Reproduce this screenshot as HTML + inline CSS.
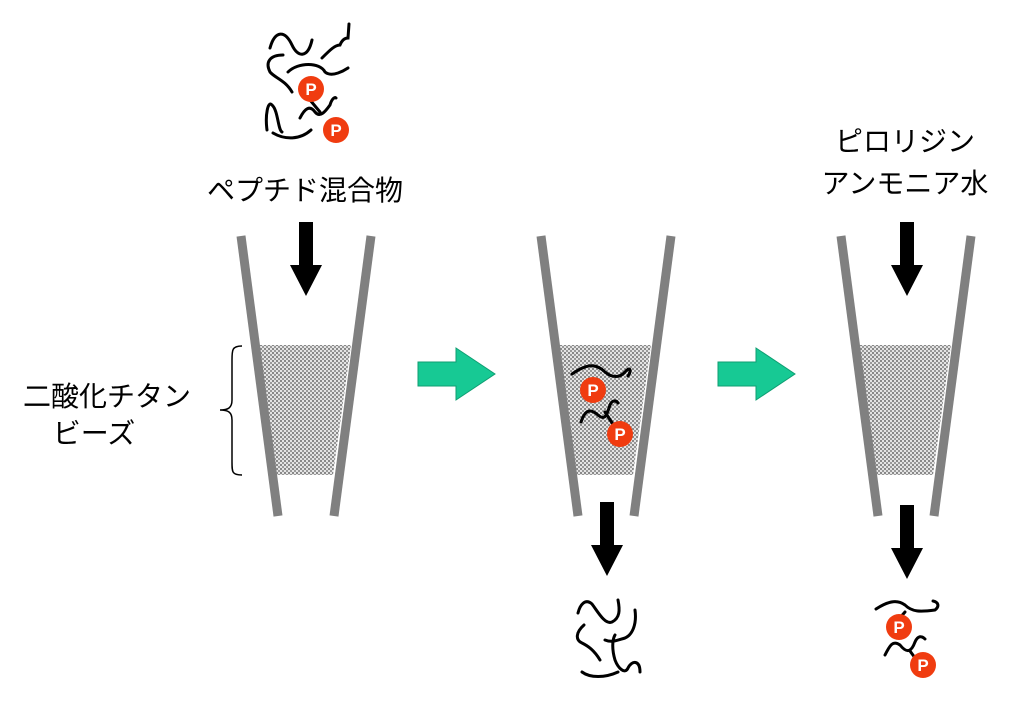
<!DOCTYPE html>
<html><head><meta charset="utf-8"><style>
html,body{margin:0;padding:0;background:#fff;width:1024px;height:711px;overflow:hidden}
svg{display:block}
text{font-family:"Liberation Sans","Noto Sans CJK JP",sans-serif}
</style></head><body>
<svg width="1024" height="711" viewBox="0 0 1024 711" xmlns="http://www.w3.org/2000/svg">
<defs>
<pattern id="dots" width="4" height="4" patternUnits="userSpaceOnUse">
<rect width="4" height="4" fill="#e4e4e4"/>
<rect x="0" y="0" width="2" height="2" fill="#888"/>
<rect x="2" y="2" width="2" height="2" fill="#999"/>
</pattern>
<g id="P"><circle r="13" fill="#f03c10"/><text y="6" text-anchor="middle" font-size="17" font-weight="bold" fill="#fff">P</text></g>
<g id="darr"><rect x="-7" y="0" width="14" height="44" fill="#000"/><polygon points="-16,43 16,43 0,74" fill="#000"/></g>
<g id="tube">
<polygon points="259,345 351,345 333,475 277,475" fill="url(#dots)"/>
<line x1="241" y1="236" x2="278" y2="516" stroke="#808080" stroke-width="9"/>
<line x1="371" y1="236" x2="334" y2="516" stroke="#808080" stroke-width="9"/>
</g>
</defs>

<use href="#tube" x="0"/>
<use href="#tube" x="300"/>
<use href="#tube" x="600"/>

<use href="#darr" x="306" y="222"/>
<use href="#darr" x="607" y="502"/>
<use href="#darr" x="907" y="222"/>
<use href="#darr" x="907" y="505"/>

<polygon points="418,362 456,362 456,348 495,374 456,400 456,386 418,386" fill="#17c994" stroke="#0f9e72" stroke-width="1"/>
<polygon points="718,362 756,362 756,348 795,374 756,400 756,386 718,386" fill="#17c994" stroke="#0f9e72" stroke-width="1"/>

<path d="M242,346 C232,346 232,350 232,360 L232,400 C232,408 228,410 220,410 C228,410 232,412 232,420 L232,462 C232,472 232,475 242,475" fill="none" stroke="#000" stroke-width="1.5"/>

<text x="305" y="200" text-anchor="middle" font-size="28">ペプチド混合物</text>
<text x="905" y="151" text-anchor="middle" font-size="28">ピロリジン</text>
<text x="905" y="193" text-anchor="middle" font-size="28">アンモニア水</text>
<text x="107" y="406" text-anchor="middle" font-size="28">二酸化チタン</text>
<text x="94" y="443" text-anchor="middle" font-size="28">ビーズ</text>

<g fill="none" stroke="#000" stroke-width="3" stroke-linecap="round">
<path d="M270,48 C275,30 285,30 292,45 C298,58 308,58 312,40"/>
<path d="M322,58 C330,50 335,45 340,45 C342,40 345,38 348,38 L349,24"/>
<path d="M283,55 C270,55 265,62 270,72 C275,78 285,80 292,92"/>
<path d="M288,72 C298,62 320,62 325,72 C332,78 345,70 348,68"/>
<path d="M267,130 C265,115 268,100 272,105 C278,110 278,130 282,132"/>
<path d="M300,118 C305,108 310,105 315,112 C320,118 325,112 330,105 C332,98 335,97 336,98"/>
<path d="M273,133 C285,140 300,140 311,130"/>
<path d="M310,100 L320,112"/>
</g>
<use href="#P" x="311" y="89"/>
<use href="#P" x="336" y="130"/>

<g fill="none" stroke="#000" stroke-width="3" stroke-linecap="round">
<path d="M572,374 C585,365 595,362 605,372 C612,378 620,378 625,372 C630,366 632,370 628,376"/>
<path d="M581,422 C585,410 590,408 598,415 C604,420 606,418 610,405 C612,400 616,400 618,403"/>
<path d="M605,412 L618,432"/>
</g>
<use href="#P" x="593" y="390"/>
<use href="#P" x="620" y="434"/>

<g fill="none" stroke="#000" stroke-width="3" stroke-linecap="round">
<path d="M578,613 C580,605 585,598 592,604 C598,612 605,625 612,622 C620,618 620,610 618,600"/>
<path d="M635,610 C637,625 632,635 625,638 C618,640 612,643 605,640"/>
<path d="M584,625 C576,632 575,640 582,643 C588,646 594,650 600,660"/>
<path d="M615,635 C612,640 612,650 615,660 C618,668 625,675 628,668 C632,660 640,660 640,672"/>
<path d="M582,672 C590,678 605,678 618,672"/>
</g>

<g fill="none" stroke="#000" stroke-width="3" stroke-linecap="round">
<path d="M876,609 C890,600 898,600 905,605 C912,612 920,612 935,610 C940,606 938,602 933,601"/>
<path d="M885,655 C890,645 893,640 900,645 C908,655 912,650 915,642 C918,635 922,636 925,639"/>
<path d="M905,612 L898,620"/>
<path d="M910,651 L918,662"/>
</g>
<use href="#P" x="899" y="627"/>
<use href="#P" x="923" y="665"/>
</svg>
</body></html>
